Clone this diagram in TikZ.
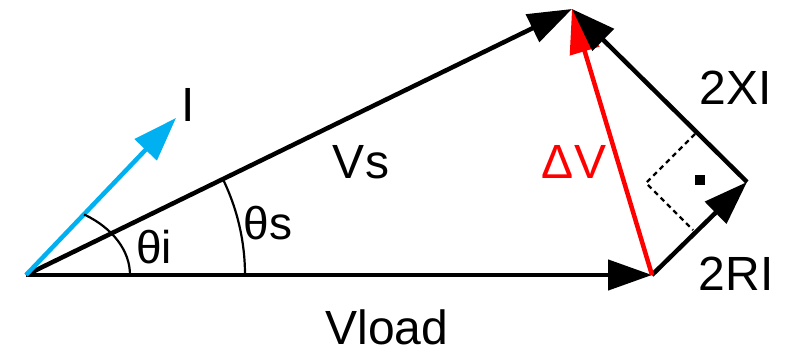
\documentclass[tikz,border=0pt]{standalone}
\usepackage{fontspec}
\setmainfont{Liberation Sans}
\usetikzlibrary{arrows.meta}
\definecolor{cyanI}{RGB}{0,176,240}
\begin{document}
\begin{tikzpicture}[x=1pt,y=1pt,
  vec/.style={line width=4.5pt,-{Triangle[length=44pt,width=30pt]}},
  lbl/.style={font=\fontsize{48}{48}\selectfont, inner sep=0pt},
  thlbl/.style={font=\fontsize{46}{46}\selectfont, inner sep=0pt},
  anglearc/.style={line width=2.2pt},
  perp/.style={line width=2.2pt, dash pattern=on 5pt off 4pt}]
\useasboundingbox (0,0) rectangle (789,354);
\coordinate (O) at (26,79);
\coordinate (P) at (652,79);
\coordinate (T) at (572,345);
\coordinate (R) at (747,172);
\coordinate (Itip) at (176,236);
\coordinate (C) at (646,171);
\coordinate (D1) at (695,220);
\coordinate (D2) at (693,124);
\coordinate (As) at (245,79);
\coordinate (Ai) at (130,79);
% vectors
\draw[vec] (O) -- (P);
\draw[vec] (O) -- (T);
\draw[vec,cyanI] (O) -- (Itip);
\draw[vec] (P) -- (R);
\draw[vec,red] (P) -- (T);
\draw[vec] (R) -- (T);
% angle arcs
\draw[anglearc] (As) arc[start angle=0,end angle=26,radius=219];
\draw[anglearc] (Ai) arc[start angle=0,end angle=56,x radius=104,y radius=73];
% right angle mark
\draw[perp] (D1) -- (C) -- (D2);
\node[fill=black, minimum size=10pt, inner sep=0pt] (dot) at (700,174) {};
% labels
\node[lbl] (lI) at (188,249) {I};
\node[lbl] (lVs) at (361,192) {Vs};
\node[lbl] (lVload) at (387,27) {Vload};
\node[lbl] (l2XI) at (736,266) {2XI};
\node[lbl] (l2RI) at (736,80) {2RI};
\node[lbl, red] (ldV) at (574,192) {ΔV};
\node[thlbl] (lti) at (154,107) {θi};
\node[thlbl] (lts) at (268,131) {θs};
\end{tikzpicture}
\end{document}
